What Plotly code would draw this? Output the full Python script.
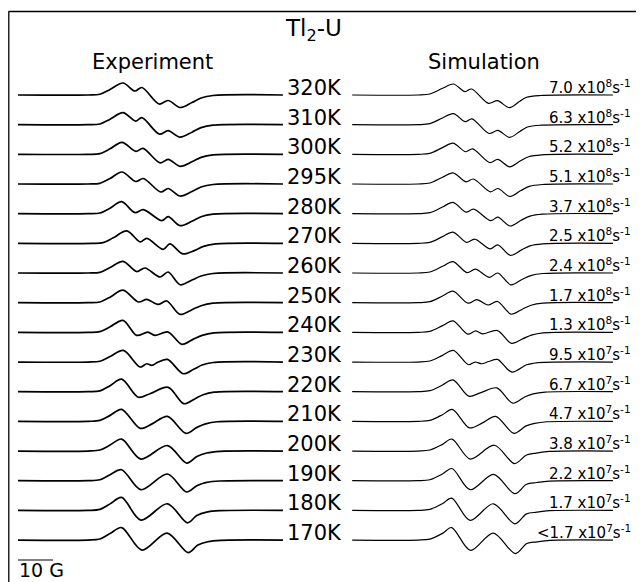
import plotly.graph_objects as go

# ---------------- data ----------------
TEMPERATURES = ["320K", "310K", "300K", "295K", "280K", "270K", "260K", "250K",
                "240K", "230K", "220K", "210K", "200K", "190K", "180K", "170K"]

RATE_PREFIX = ["", "", "", "", "", "", "", "", "", "", "", "", "", "", "", "<"]
RATE_MANTISSA = ["7.0", "6.3", "5.2", "5.1", "3.7", "2.5", "2.4", "1.7",
                 "1.3", "9.5", "6.7", "4.7", "3.8", "2.2", "1.7", "1.7"]
RATE_EXPONENT = [8, 8, 8, 8, 8, 8, 8, 8, 8, 7, 7, 7, 7, 7, 7, 7]

SCALE_BAR_G = 10

# Experimental derivative spectra: field (G) and signal (a.u.) at read-off points
EXP_FIELD = [
    [0, 20, 23.4, 26.3, 30.0, 33.4, 35.4, 40.3, 42.9, 46.3, 49.7, 52.3, 55.7, 75.7],
    [0, 20, 23.4, 26.3, 30.0, 33.6, 35.4, 40.4, 42.9, 46.3, 49.7, 52.3, 55.7, 75.7],
    [0, 20, 23.4, 26.3, 29.7, 33.7, 35.7, 40.6, 42.9, 46.3, 49.7, 52.3, 55.7, 75.7],
    [0, 20, 23.4, 26.3, 29.7, 33.7, 35.8, 40.8, 42.9, 46.3, 49.7, 52.3, 55.7, 75.7],
    [0, 20, 23.4, 26.3, 29.6, 33.4, 35.8, 41.1, 42.9, 46.3, 49.7, 52.3, 55.7, 75.7],
    [0, 21, 24.3, 27.2, 31.1, 34.9, 36.8, 41.5, 43.4, 47.1, 50.5, 53.0, 56.5, 75.7],
    [0, 20, 23.4, 26.3, 30.0, 33.9, 36.3, 40.6, 42.9, 46.3, 49.7, 52.3, 55.7, 75.7],
    [0, 20, 23.4, 26.3, 30.0, 34.4, 36.8, 40.0, 42.5, 46.3, 49.7, 52.3, 55.7, 75.7],
    [0, 20, 23.4, 26.3, 30.0, 33.9, 37.1, 39.1, 42.9, 46.8, 50.0, 52.6, 56.0, 75.7],
    [0, 20, 23.4, 26.3, 30.1, 34.9, 36.8, 38.2, 40.1, 42.7, 47.2, 50.3, 52.6, 55.7, 75.7],
    [0, 20, 23.4, 26.3, 29.6, 34.4, 37.7, 42.9, 47.4, 50.6, 52.9, 56.0, 75.7],
    [0, 20, 23.4, 26.3, 29.6, 34.9, 38.3, 42.7, 48.0, 51.1, 53.6, 57.0, 75.7],
    [0, 20, 23.4, 26.3, 29.6, 35.1, 42.7, 48.2, 51.1, 53.9, 57.7, 75.7],
    [0, 20, 23.4, 26.3, 29.6, 35.1, 42.7, 48.2, 51.1, 53.9, 57.7, 75.7],
    [0, 20, 23.4, 26.3, 29.6, 35.1, 42.7, 48.4, 51.1, 53.9, 57.7, 75.7],
    [0, 20, 23.4, 26.3, 29.6, 35.4, 42.6, 48.6, 51.4, 54.2, 58.0, 75.7],
]
EXP_SIGNAL = [
    [0, 0, 0.7, 5.5, 12.0, 4.0, 7.5, -9.0, -5.5, -12.5, -7.5, -3.0, -0.5, 0],
    [0, 0, 0.7, 5.5, 12.0, 3.5, 7.0, -9.5, -6.0, -12.5, -7.5, -3.0, -0.5, 0],
    [0, 0, 0.7, 5.5, 12.0, 3.0, 6.0, -8.5, -5.0, -12.0, -7.5, -3.0, -0.5, 0],
    [0, 0, 0.7, 5.5, 12.0, 2.5, 5.5, -8.0, -4.5, -12.0, -7.5, -3.0, -0.5, 0],
    [0, 0, 0.7, 5.5, 12.0, 1.0, 4.0, -7.0, -3.0, -12.0, -7.5, -3.0, -0.5, 0],
    [0, 0, 0.7, 5.5, 12.5, 1.5, 5.0, -6.0, -0.5, -10.5, -7.0, -3.0, -0.5, 0],
    [0, 0, 0.7, 5.5, 11.7, 1.5, 5.0, -4.0, 1.0, -11.7, -7.0, -3.0, -0.5, 0],
    [0, 0, 0.7, 5.5, 12.5, 0.7, 3.3, -1.7, 1.7, -11.7, -7.0, -3.0, -0.5, 0],
    [0, 0, 0.7, 5.5, 12.0, -3.0, 0.3, -3.0, 0.3, -12.0, -7.0, -3.0, -0.5, 0],
    [0, 0, 0.8, 5.5, 11.6, -5.0, -1.7, -3.4, 0.0, 2.6, -11.7, -7.0, -3.0, -0.5, 0],
    [0, 0, 0.8, 6.0, 12.5, -5.6, -2.0, 4.4, -12.0, -7.0, -3.0, -0.5, 0],
    [0, 0, 1.0, 6.0, 12.0, -7.0, -2.5, 5.0, -12.0, -6.0, -2.5, -0.4, 0],
    [0, 0, 1.0, 6.0, 12.0, -8.0, 5.5, -12.0, -5.5, -2.0, -0.3, 0],
    [0, 0, 1.0, 6.0, 11.0, -9.0, 6.7, -11.3, -5.0, -1.7, -0.3, 0],
    [0, 0, 1.0, 6.5, 13.0, -9.7, 6.6, -12.4, -5.0, -1.7, -0.3, 0],
    [0, 0, 1.0, 6.5, 12.5, -10.0, 7.0, -12.5, -5.0, -1.7, -0.3, 0],
]

# Simulated spectra
SIM_FIELD = [
    [1.2, 20, 23.4, 27.0, 30.1, 33.4, 35.3, 40.1, 42.7, 46.1, 49.0, 51.0, 55.0, 75.7],
    [1.2, 20, 23.4, 27.0, 30.1, 33.5, 35.4, 40.3, 42.8, 46.2, 49.2, 51.3, 55.2, 75.7],
    [1.2, 20, 23.4, 27.0, 30.0, 33.6, 35.6, 40.5, 42.8, 46.2, 49.3, 51.6, 55.4, 75.7],
    [1.2, 20, 23.4, 27.0, 30.0, 33.7, 35.8, 40.7, 42.8, 46.3, 49.4, 51.8, 55.5, 75.7],
    [1.2, 20, 23.4, 27.0, 30.0, 33.7, 35.9, 40.8, 42.8, 46.3, 49.5, 52.0, 55.5, 75.7],
    [1.2, 20, 23.4, 27.0, 30.0, 33.9, 36.2, 40.6, 42.8, 46.4, 49.6, 52.0, 55.6, 75.7],
    [1.2, 20, 23.4, 27.0, 30.0, 34.0, 36.4, 40.4, 42.8, 46.5, 49.7, 52.2, 55.7, 75.7],
    [1.2, 20, 23.4, 27.0, 30.0, 34.3, 36.8, 40.0, 42.7, 46.6, 49.8, 52.3, 55.7, 75.7],
    [1.2, 20, 23.4, 27.0, 30.0, 34.2, 36.5, 38.4, 42.7, 46.7, 49.9, 52.4, 55.8, 75.7],
    [1.2, 20, 23.4, 27.0, 30.1, 34.4, 36.3, 38.2, 40.2, 42.7, 46.8, 51.0, 53.0, 56.0, 75.7],
    [1.2, 20, 23.4, 27.0, 30.0, 34.5, 37.8, 42.5, 47.1, 50.6, 52.9, 56.3, 75.7],
    [1.2, 20, 23.4, 27.0, 29.8, 34.7, 38.3, 42.2, 47.4, 50.9, 53.3, 56.8, 75.7],
    [1.2, 20, 23.4, 27.0, 29.7, 34.9, 41.8, 47.6, 51.0, 53.9, 57.5, 75.7],
    [1.2, 20, 23.4, 27.0, 29.7, 34.9, 41.6, 47.7, 51.0, 53.9, 57.5, 75.7],
    [1.2, 20, 23.4, 27.0, 29.6, 34.9, 41.5, 47.7, 51.0, 53.9, 57.5, 75.7],
    [1.2, 20, 23.4, 27.0, 29.6, 35.0, 41.5, 47.8, 51.1, 54.0, 57.7, 75.7],
]
SIM_SIGNAL = [
    [0, 0, 1.0, 6.7, 11.0, 3.3, 6.0, -8.3, -5.7, -12.7, -6.5, -2.3, -0.5, 0],
    [0, 0, 1.0, 6.7, 11.0, 3.0, 5.8, -8.8, -5.8, -12.7, -6.5, -2.3, -0.5, 0],
    [0, 0, 1.0, 6.7, 11.2, 2.6, 5.4, -8.2, -5.0, -12.5, -6.5, -2.4, -0.5, 0],
    [0, 0, 1.0, 6.7, 11.2, 2.2, 5.0, -7.8, -4.5, -12.5, -6.5, -2.4, -0.5, 0],
    [0, 0, 1.0, 6.7, 11.3, 1.6, 4.5, -7.0, -3.5, -12.3, -6.5, -2.5, -0.5, 0],
    [0, 0, 1.0, 6.7, 11.3, 1.0, 4.3, -5.5, -1.5, -12.0, -6.5, -2.5, -0.5, 0],
    [0, 0, 1.0, 6.7, 11.4, 0.4, 3.8, -4.3, 0.0, -11.8, -6.5, -2.6, -0.5, 0],
    [0, 0, 1.0, 6.7, 11.5, -0.5, 3.0, -2.3, 1.2, -11.5, -6.5, -2.6, -0.5, 0],
    [0, 0, 1.0, 6.7, 11.5, -1.8, 1.5, -1.5, 1.8, -11.0, -6.5, -2.7, -0.5, 0],
    [0, 0, 1.0, 6.7, 11.6, -2.7, 0.0, -1.7, 0.5, 2.6, -10.0, -2.7, -1.2, -0.3, 0],
    [0, 0, 1.0, 6.7, 11.8, -4.5, -1.2, 3.8, -11.5, -5.0, -2.2, -0.4, 0],
    [0, 0, 1.0, 6.7, 12.0, -6.5, -1.8, 5.0, -12.0, -4.5, -2.0, -0.4, 0],
    [0, 0, 1.0, 6.7, 12.0, -8.0, 5.8, -12.5, -4.0, -2.0, -0.4, 0],
    [0, 0, 1.0, 6.7, 12.2, -9.0, 6.3, -13.0, -3.5, -1.8, -0.4, 0],
    [0, 0, 1.0, 6.7, 12.3, -10.0, 6.6, -13.4, -3.5, -1.8, -0.3, 0],
    [0, 0, 1.0, 6.7, 12.5, -10.3, 7.0, -13.5, -3.5, -1.8, -0.3, 0],
]

# ---------------- layout geometry (pixels of the 644x582 window) ----------------
PAGE_MARGIN = 8                 # default body margin of the html page
W, H = 644 - PAGE_MARGIN, 582 - PAGE_MARGIN
PX_PER_G = 3.5
EXP_ORIGIN_PX = 18
SIM_ORIGIN_PX = 348
TOP_BASELINE_PX = 95
ROW_STEP = 29.67
FONT = "DejaVu Sans"


def px_x(p):
    return (p - PAGE_MARGIN) / W


def px_y(p):
    return 1 - (p - PAGE_MARGIN) / H


fig = go.Figure()
for i, temp in enumerate(TEMPERATURES):
    base = -i * ROW_STEP
    fig.add_trace(go.Scatter(
        x=EXP_FIELD[i], y=[base + s for s in EXP_SIGNAL[i]],
        mode="lines", line=dict(color="black", width=1.7, shape="spline", smoothing=0.9),
        xaxis="x", yaxis="y", hoverinfo="skip", name="Experiment " + temp))
    fig.add_trace(go.Scatter(
        x=SIM_FIELD[i], y=[base + s for s in SIM_SIGNAL[i]],
        mode="lines", line=dict(color="black", width=1.2, shape="spline", smoothing=0.9),
        xaxis="x2", yaxis="y", hoverinfo="skip", name="Simulation " + temp))

annotations = []
for i, temp in enumerate(TEMPERATURES):
    row_px = TOP_BASELINE_PX + i * ROW_STEP
    annotations.append(dict(
        text=temp, x=px_x(314), y=px_y(row_px - 7), xref="paper", yref="paper",
        xanchor="center", yanchor="middle", showarrow=False,
        font=dict(family=FONT, size=21, color="black")))
    rate = f"{RATE_PREFIX[i]}{RATE_MANTISSA[i]} x10<sup>{RATE_EXPONENT[i]}</sup>s<sup>-1</sup>"
    annotations.append(dict(
        text=rate, x=px_x(633), y=px_y(row_px - 8), xref="paper", yref="paper",
        xanchor="right", yanchor="middle", showarrow=False,
        font=dict(family=FONT, size=15, color="black")))

annotations += [
    dict(text="Tl<sub>2</sub>-U", x=px_x(313), y=px_y(30), xref="paper", yref="paper",
         xanchor="center", yanchor="middle", showarrow=False,
         font=dict(family=FONT, size=23, color="black")),
    dict(text="Experiment", x=px_x(152), y=px_y(62), xref="paper", yref="paper",
         xanchor="center", yanchor="middle", showarrow=False,
         font=dict(family=FONT, size=21, color="black")),
    dict(text="Simulation", x=px_x(484), y=px_y(62), xref="paper", yref="paper",
         xanchor="center", yanchor="middle", showarrow=False,
         font=dict(family=FONT, size=21, color="black")),
    dict(text=f"{SCALE_BAR_G} G", x=px_x(17), y=px_y(570), xref="paper", yref="paper",
         xanchor="left", yanchor="middle", showarrow=False,
         font=dict(family=FONT, size=19, color="black")),
]

shapes = [
    dict(type="line", xref="paper", yref="paper", x0=px_x(8.5), x1=1.0,
         y0=px_y(11.5), y1=px_y(11.5), line=dict(color="black", width=1.3)),
    dict(type="line", xref="paper", yref="paper", x0=px_x(8.8), x1=px_x(8.8),
         y0=px_y(11.5), y1=0.0, line=dict(color="black", width=1.3)),
    dict(type="line", xref="x", yref="paper", x0=0, x1=SCALE_BAR_G,
         y0=px_y(560), y1=px_y(560), line=dict(color="black", width=1.2)),
]

fig.update_layout(
    width=W, height=H, margin=dict(l=0, r=0, t=0, b=0),
    paper_bgcolor="white", plot_bgcolor="white", showlegend=False,
    xaxis=dict(range=[(PAGE_MARGIN - EXP_ORIGIN_PX) / PX_PER_G, (644 - EXP_ORIGIN_PX) / PX_PER_G],
               visible=False, fixedrange=True),
    xaxis2=dict(range=[(PAGE_MARGIN - SIM_ORIGIN_PX) / PX_PER_G, (644 - SIM_ORIGIN_PX) / PX_PER_G],
                overlaying="x", visible=False, fixedrange=True),
    yaxis=dict(range=[TOP_BASELINE_PX - 582, TOP_BASELINE_PX - PAGE_MARGIN],
               visible=False, fixedrange=True),
    annotations=annotations, shapes=shapes,
)

fig.write_html("out.html")
